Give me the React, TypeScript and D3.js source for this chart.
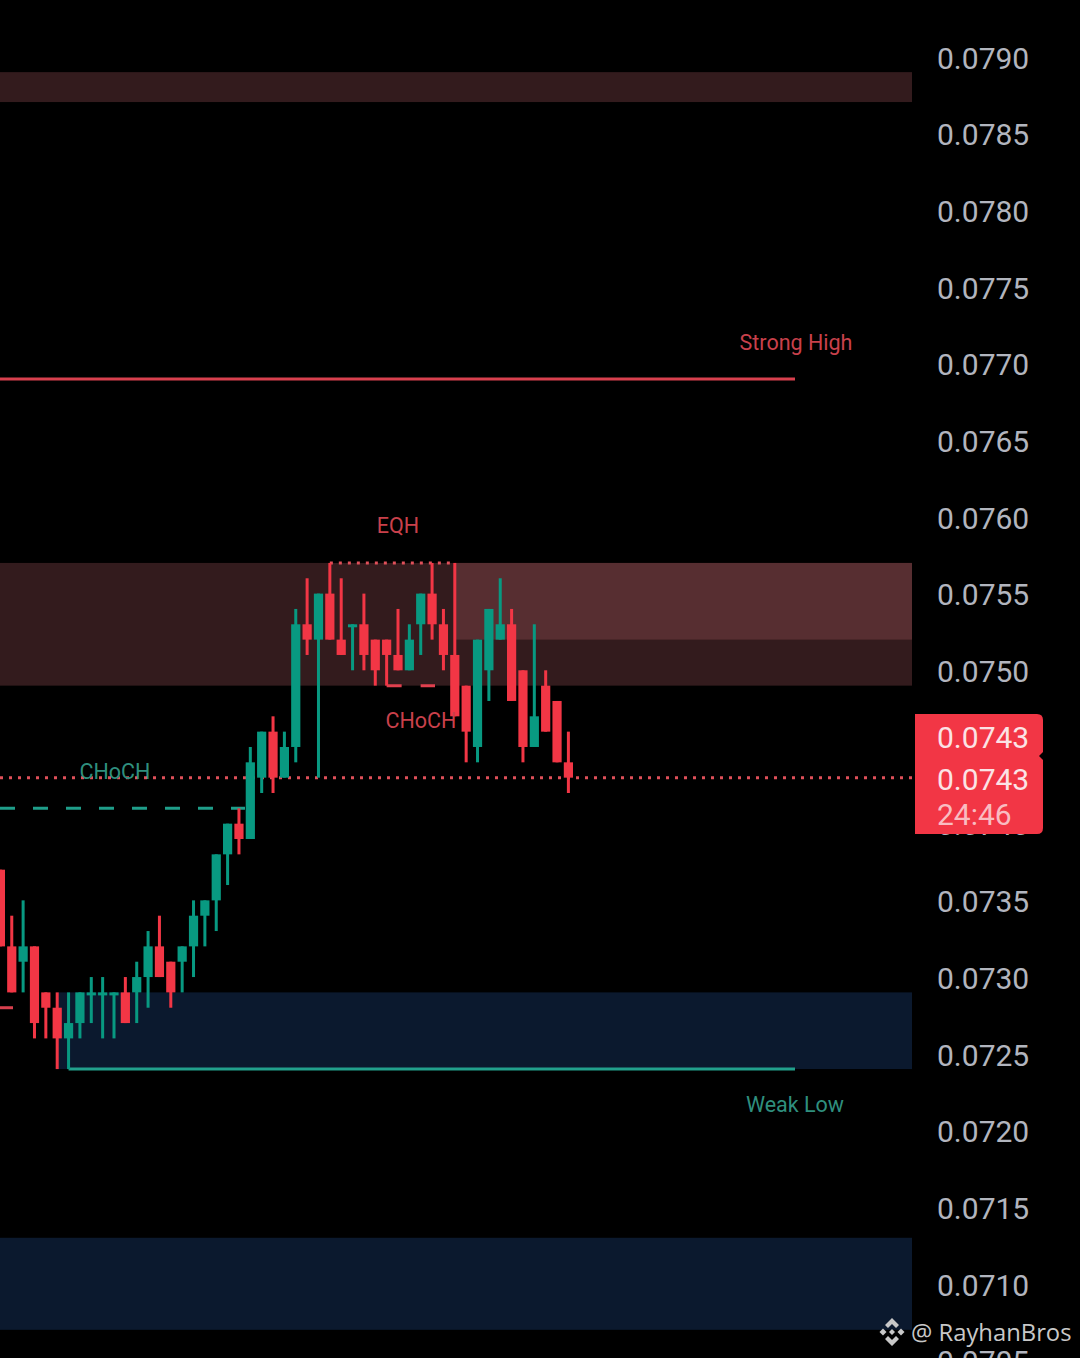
import React from "react";
import * as d3 from "d3";

// One candle per entry, oldest first (prices in units of 0.0001)
const opens = [737,732,731,732,729,728,726,727,729,729,729,729,729,730,732,731,731,732,734,735,738,740,739,743,746,743,745,753,752,755,752,753,753,752,752,751,750,753,755,753,751,749,745,750,752,753,750,745,749,748,744];
const closes = [732,729,732,727,728,726,727,729,729,729,729,727,730,732,730,729,732,734,735,738,740,739,744,746,743,745,753,752,755,752,751,753,751,750,751,750,752,755,753,751,747,746,752,754,753,748,745,747,746,744,743];
const highs = [737,734,735,732,729,729,729,729,730,730,729,730,731,733,734,731,732,735,735,738,740,741,745,746,747,746,754,756,755,757,756,753,755,752,752,754,753,755,757,754,757,749,752,754,756,754,750,753,750,748,746];
const lows = [732,729,729,726,726,724,724,726,727,726,726,727,727,728,730,728,729,730,732,733,736,738,739,742,742,743,744,751,743,752,751,750,750,749,749,750,750,751,752,750,747,744,744,748,752,748,744,745,746,744,742];

const axisTicks = [0.079,0.0785,0.078,0.0775,0.077,0.0765,0.076,0.0755,0.075,0.0745,0.074,0.0735,0.073,0.0725,0.072,0.0715,0.071,0.0705];

const lastPriceLabels = ["0.0743", "0.0743", "24:46"];

const GREEN = "#089981";
const RED = "#f23645";
const ZONE_RED = "#331b1d";
const ZONE_RED_LIGHT = "#572e31";
const ZONE_BLUE = "#0b192e";
const AXIS_TEXT = "#b2b5be";
const FONT = "Roboto, sans-serif";

const x = d3.scaleLinear().domain([0, 50]).range([0.4, 568.4]);
const y = d3.scaleLinear().domain([0.079, 0.071]).range([56.8, 1283.8]);
const yt = (v: number) => y(v / 10000);

const EDGE = 912;

function Zone({ top, bottom, from, to, fill }: { top: number; bottom: number; from: number; to: number; fill: string }) {
  return <rect x={from} y={y(top)} width={to - from} height={y(bottom) - y(top)} fill={fill} />;
}

export default function App() {
  const boxPath = d3.path();
  boxPath.moveTo(915, 714);
  boxPath.lineTo(1037, 714);
  boxPath.quadraticCurveTo(1043, 714, 1043, 720);
  boxPath.lineTo(1043, 752);
  boxPath.lineTo(1039, 756);
  boxPath.lineTo(1043, 760);
  boxPath.lineTo(1043, 828);
  boxPath.quadraticCurveTo(1043, 834, 1037, 834);
  boxPath.lineTo(915, 834);
  boxPath.closePath();

  return (
    <svg width={1080} height={1358} viewBox="0 0 1080 1358"
      style={{ position: "absolute", left: 0, top: 0, background: "#000", display: "block" }}
      fontFamily={FONT}>
      <rect width={1080} height={1358} fill="#000" />

      {/* zones */}
      <Zone top={0.0789} bottom={0.078705} from={0} to={EDGE} fill={ZONE_RED} />
      <Zone top={0.0757} bottom={0.0749} from={0} to={EDGE} fill={ZONE_RED} />
      <Zone top={0.0757} bottom={0.0752} from={x(40)} to={EDGE} fill={ZONE_RED_LIGHT} />
      <Zone top={0.0729} bottom={0.0724} from={x(5)} to={EDGE} fill={ZONE_BLUE} />
      <Zone top={0.0713} bottom={0.0707} from={0} to={EDGE} fill={ZONE_BLUE} />

      {/* structure lines */}
      <line x1={0} x2={795} y1={y(0.0769)} y2={y(0.0769)} stroke="#d8404e" strokeWidth={3} />
      <line x1={x(6)} x2={795} y1={y(0.0724)} y2={y(0.0724)} stroke="#22a08c" strokeWidth={3} />
      <line x1={0} x2={245} y1={y(0.0741)} y2={y(0.0741)} stroke="#1f9e8a" strokeWidth={3} strokeDasharray="15 18" />
      <line x1={0} x2={13} y1={y(0.0728)} y2={y(0.0728)} stroke="#d8404e" strokeWidth={3} />
      <line x1={x(34)} x2={435} y1={y(0.0749)} y2={y(0.0749)} stroke="#e0404e" strokeWidth={3} strokeDasharray="15 19" />
      <line x1={x(29)} x2={x(40)} y1={y(0.0757)} y2={y(0.0757)} stroke="#e0505a" strokeWidth={3} strokeDasharray="3 6" />

      {/* last-price line */}
      <line x1={0} x2={EDGE} y1={y(0.0743)} y2={y(0.0743)} stroke="#e0505a" strokeWidth={3} strokeDasharray="3 6" />

      {/* candles */}
      {opens.map((o, i) => {
        const c = closes[i];
        const color = c >= o ? GREEN : RED;
        const top = Math.max(o, c);
        const bot = Math.min(o, c);
        const h = Math.max(yt(bot) - yt(top), 3);
        return (
          <g key={i} fill={color}>
            <rect x={x(i) - 1.5} width={3} y={yt(highs[i])} height={yt(lows[i]) - yt(highs[i])} />
            <rect x={x(i) - 4.6} width={9.2} y={yt(top)} height={h} />
          </g>
        );
      })}

      {/* annotation labels */}
      <g fontSize={21.5} textAnchor="middle">
        <text x={398} y={532.5} fill="#c9404b">EQH</text>
        <text x={796} y={350} fill="#c9404b">Strong High</text>
        <text x={421} y={728} fill="#c9404b">CHoCH</text>
        <text x={115} y={779} fill="#2f8f7e">CHoCH</text>
        <text x={795} y={1112} fill="#2f8f7e">Weak Low</text>
      </g>

      {/* price axis */}
      <g fontSize={30} fill={AXIS_TEXT}>
        {axisTicks.map((t) => (
          <text key={t} x={937} y={y(t) + 1} dy="0.36em">{t.toFixed(4)}</text>
        ))}
      </g>

      {/* last-price badge */}
      <path d={boxPath.toString()} fill="#f23645" />
      <g fontSize={30}>
        <text x={937} y={748} fill="#fbe3e5">{lastPriceLabels[0]}</text>
        <text x={937} y={790} fill="#fbe3e5">{lastPriceLabels[1]}</text>
        <text x={937} y={825} fill="#f9bcc1">{lastPriceLabels[2]}</text>
      </g>

      {/* watermark */}
      <g fill="#c8c8c8" transform="translate(892,1332)">
        <path d="M0,-14 L7,-7 L4,-4 L0,-8 L-4,-4 L-7,-7 Z" />
        <path d="M0,14 L7,7 L4,4 L0,8 L-4,4 L-7,7 Z" />
        <path d="M-9,-3.5 L-5.5,0 L-9,3.5 L-12.5,0 Z" />
        <path d="M9,-3.5 L12.5,0 L9,3.5 L5.5,0 Z" />
        <path d="M0,-3 L3,0 L0,3 L-3,0 Z" />
      </g>
      <text x={911} y={1341} fontSize={23.8} fill="#c8c8c8" fontFamily="'Open Sans', sans-serif">@ RayhanBros</text>
    </svg>
  );
}
